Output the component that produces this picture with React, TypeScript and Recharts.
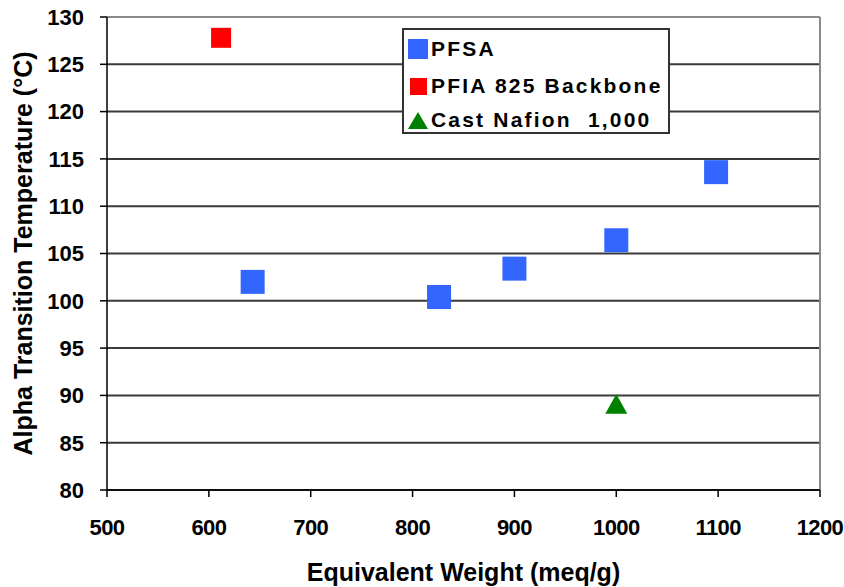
import React from 'react';
import {
  ScatterChart,
  Scatter,
  XAxis,
  YAxis,
  CartesianGrid,
  ReferenceLine,
  Legend,
} from 'recharts';

// Equivalent weight (meq/g) vs alpha transition temperature (°C)
const pfsaWeights = [643, 826, 900, 1000, 1098];
const pfsaTemps = [102.0, 100.4, 103.4, 106.4, 113.6];

const pfiaWeights = [612];
const pfiaTemps = [127.8];

const castWeights = [1000];
const castTemps = [89.1];

const xTicks = [500, 600, 700, 800, 900, 1000, 1100, 1200];
const yTicks = [80, 85, 90, 95, 100, 105, 110, 115, 120, 125, 130];

const seriesNames = ['PFSA', 'PFIA 825 Backbone', 'Cast Nafion  1,000'];

const toPoints = (xs: number[], ys: number[]) => xs.map((x, i) => ({ x, y: ys[i] }));

const pfsaData = toPoints(pfsaWeights, pfsaTemps);
const pfiaData = toPoints(pfiaWeights, pfiaTemps);
const castData = toPoints(castWeights, castTemps);

const FONT = '"Liberation Sans", Arial, sans-serif';
const BLUE = '#3366FF';
const RED = '#FF0000';
const GREEN = '#008000';

const Square = (size: number, fill: string) => (props: any) => {
  const { cx, cy } = props;
  return <rect x={cx - size / 2} y={cy - size / 2} width={size} height={size} fill={fill} />;
};

const Triangle = (size: number, fill: string) => (props: any) => {
  const { cx, cy } = props;
  const h = size * 0.9;
  return (
    <polygon
      points={`${cx},${cy - h / 2} ${cx + size / 2},${cy + h / 2} ${cx - size / 2},${cy + h / 2}`}
      fill={fill}
    />
  );
};

const LegendBox = () => {
  const row = (marker: React.ReactNode, label: string, top: number) => (
    <div
      key={label}
      style={{
        position: 'absolute',
        left: 3,
        top,
        display: 'flex',
        alignItems: 'center',
        height: 22,
      }}
    >
      <svg width={22} height={22} style={{ marginRight: 2 }}>
        {marker}
      </svg>
      <span
        style={{
          fontFamily: FONT,
          fontWeight: 'bold',
          fontSize: 21,
          letterSpacing: 2.2,
          color: '#000',
          whiteSpace: 'pre',
        }}
      >
        {label}
      </span>
    </div>
  );
  return (
    <div
      style={{
        position: 'relative',
        width: 264,
        height: 102,
        background: '#fff',
        border: '2px solid #333',
      }}
    >
      {row(<rect x={1} y={1} width={20} height={20} fill={BLUE} />, seriesNames[0], 8)}
      {row(<rect x={3} y={3} width={17} height={17} fill={RED} />, seriesNames[1], 45)}
      {row(<polygon points="11,3 21,20 1,20" fill={GREEN} />, seriesNames[2], 79)}
    </div>
  );
};

const xTickStyle = {
  fontFamily: FONT,
  fontWeight: 'bold' as const,
  fontSize: 22,
  letterSpacing: -0.6,
  fill: '#000',
};
const yTickStyle = { fontFamily: FONT, fontWeight: 'bold' as const, fontSize: 22, fill: '#000' };
const titleStyle = { fontFamily: FONT, fontWeight: 'bold' as const, fontSize: 25, fill: '#000' };

export default function App() {
  return (
    <div style={{ position: 'absolute', left: 0, top: 0, width: 844, height: 587, background: '#fff' }}>
      <ScatterChart width={844} height={587} margin={{ top: 17, right: 24, bottom: 0, left: 0 }}>
        <CartesianGrid vertical={false} stroke="#3a3a3a" strokeWidth={2} />
        <XAxis
          type="number"
          dataKey="x"
          domain={[500, 1200]}
          ticks={xTicks}
          interval={0}
          height={97}
          tickSize={7}
          tickMargin={22}
          stroke="#000"
          strokeWidth={1.5}
          tick={xTickStyle}
          label={{
            value: 'Equivalent Weight (meq/g)',
            position: 'insideBottom',
            offset: 6,
            style: titleStyle,
          }}
        />
        <YAxis
          type="number"
          dataKey="y"
          domain={[80, 130]}
          ticks={yTicks}
          interval={0}
          width={107}
          tickSize={7}
          tickMargin={16}
          stroke="#000"
          strokeWidth={1.5}
          tick={yTickStyle}
          label={{
            value: 'Alpha Transition Temperature (°C)',
            angle: -90,
            position: 'insideLeft',
            offset: 23,
            style: { ...titleStyle, textAnchor: 'middle' },
          }}
        />
        <ReferenceLine y={130} stroke="#8a8a8a" strokeWidth={2} />
        <ReferenceLine x={1200} stroke="#8a8a8a" strokeWidth={2} />
        <Legend
          layout="vertical"
          align="center"
          verticalAlign="middle"
          content={() => <LegendBox />}
          wrapperStyle={{ position: 'absolute', left: 402, top: 28, width: 'auto', height: 'auto' }}
        />
        <Scatter name={seriesNames[0]} data={pfsaData} shape={Square(24, BLUE)} isAnimationActive={false} />
        <Scatter name={seriesNames[1]} data={pfiaData} shape={Square(20, RED)} isAnimationActive={false} />
        <Scatter name={seriesNames[2]} data={castData} shape={Triangle(22, GREEN)} isAnimationActive={false} />
      </ScatterChart>
    </div>
  );
}
